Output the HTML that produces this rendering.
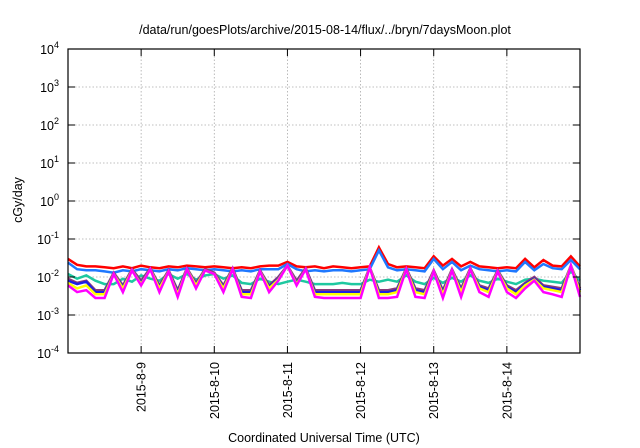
<!DOCTYPE html>
<html><head><meta charset="utf-8"><style>
body{margin:0;background:#fff}
svg{display:block;font-family:"Liberation Sans",sans-serif}
</style></head><body>
<svg id="chart" width="640" height="448" viewBox="0 0 640 448" xmlns="http://www.w3.org/2000/svg">
<text x="325" y="34" font-size="12.5" text-anchor="middle">/data/run/goesPlots/archive/2015-08-14/flux/../bryn/7daysMoon.plot</text>
<text transform="translate(22,200) rotate(-90)" font-size="12.5" text-anchor="middle">cGy/day</text>
<text x="324" y="442" font-size="12.5" text-anchor="middle">Coordinated Universal Time (UTC)</text>
<g id="grid"></g><g id="series"></g><g id="axes"></g>
</svg>
<script>
const dayLabels=["2015-8-9","2015-8-10","2015-8-11","2015-8-12","2015-8-13","2015-8-14"];
const decades=[-4,-3,-2,-1,0,1,2,3,4];
const red=[0.03,0.021,0.019,0.019,0.018,0.017,0.019,0.017,0.02,0.018,0.017,0.019,0.018,0.02,0.019,0.018,0.019,0.018,0.017,0.018,0.017,0.019,0.02,0.02,0.025,0.019,0.018,0.019,0.017,0.019,0.018,0.017,0.018,0.019,0.06,0.022,0.018,0.019,0.018,0.017,0.035,0.02,0.03,0.019,0.025,0.019,0.018,0.017,0.018,0.017,0.03,0.018,0.028,0.02,0.019,0.035,0.019];
const lightBlue=[0.024,0.016,0.015,0.015,0.014,0.013,0.015,0.014,0.016,0.015,0.014,0.016,0.015,0.017,0.016,0.015,0.016,0.015,0.014,0.015,0.014,0.016,0.016,0.016,0.022,0.016,0.014,0.015,0.014,0.015,0.015,0.014,0.015,0.016,0.05,0.018,0.015,0.016,0.015,0.014,0.03,0.016,0.025,0.015,0.02,0.016,0.015,0.014,0.015,0.014,0.025,0.015,0.022,0.017,0.016,0.028,0.016];
const teal=[0.012,0.009,0.011,0.008,0.0065,0.0065,0.009,0.0075,0.011,0.009,0.008,0.012,0.009,0.012,0.0085,0.011,0.012,0.009,0.011,0.007,0.0065,0.009,0.0075,0.0065,0.0075,0.0085,0.0075,0.0065,0.0065,0.0065,0.007,0.0065,0.0065,0.0085,0.0075,0.0085,0.0075,0.011,0.0075,0.0065,0.0095,0.007,0.0095,0.0075,0.011,0.008,0.007,0.009,0.0075,0.0065,0.0085,0.009,0.008,0.0075,0.007,0.014,0.008];
const purple=[0.009,0.007,0.008,0.0045,0.0045,0.013,0.006,0.016,0.008,0.017,0.006,0.015,0.0045,0.017,0.007,0.016,0.013,0.006,0.017,0.0045,0.0045,0.015,0.006,0.01,0.02,0.008,0.017,0.0045,0.0045,0.0045,0.0045,0.0045,0.0045,0.018,0.0045,0.0045,0.005,0.017,0.005,0.0045,0.015,0.0045,0.016,0.005,0.017,0.006,0.005,0.015,0.006,0.0045,0.007,0.01,0.006,0.0055,0.005,0.02,0.005];
const blue=[0.008,0.0065,0.0075,0.004,0.004,0.012,0.0055,0.015,0.007,0.016,0.0055,0.014,0.004,0.016,0.0065,0.015,0.012,0.0055,0.016,0.004,0.004,0.014,0.0055,0.009,0.02,0.007,0.016,0.004,0.004,0.004,0.004,0.004,0.004,0.018,0.004,0.004,0.0045,0.016,0.0045,0.004,0.014,0.004,0.015,0.0045,0.016,0.0055,0.0045,0.014,0.0055,0.004,0.0065,0.009,0.0055,0.005,0.0045,0.02,0.0045];
const yellow=[0.007,0.005,0.006,0.0035,0.0035,0.012,0.005,0.015,0.0065,0.016,0.005,0.014,0.0035,0.016,0.006,0.015,0.012,0.005,0.016,0.0035,0.0035,0.014,0.005,0.0085,0.02,0.0065,0.016,0.0035,0.0035,0.0035,0.0035,0.0035,0.0035,0.018,0.0035,0.0035,0.004,0.016,0.004,0.0035,0.014,0.0035,0.015,0.004,0.016,0.005,0.004,0.014,0.005,0.0035,0.006,0.0085,0.005,0.0045,0.004,0.02,0.004];
const magenta=[0.006,0.004,0.0045,0.0028,0.0028,0.012,0.004,0.015,0.006,0.016,0.004,0.014,0.003,0.016,0.005,0.015,0.012,0.004,0.016,0.003,0.0028,0.014,0.004,0.008,0.02,0.006,0.016,0.003,0.0028,0.0028,0.0028,0.0028,0.0028,0.018,0.0028,0.0028,0.003,0.016,0.003,0.0028,0.014,0.0028,0.015,0.003,0.016,0.004,0.003,0.014,0.004,0.0028,0.005,0.008,0.004,0.0035,0.003,0.02,0.003];
const seriesList=[[red,"#ff0000"],[lightBlue,"#1f78ff"],[teal,"#1ec8a0"],[purple,"#8a3a7a"],[blue,"#2020e0"],[yellow,"#ffff00"],[magenta,"#ff00ff"]];
const L=68,R=580,T=49,B=353,DAYS=7;
const NS="http://www.w3.org/2000/svg";
function xDay(d){return L+(R-L)*d/DAYS;}
function yVal(v){return B-(Math.log10(v)+4)*(B-T)/8;}
function mk(tag,attrs,parent){const e=document.createElementNS(NS,tag);for(const k in attrs)e.setAttribute(k,attrs[k]);parent.appendChild(e);return e;}
const grid=document.getElementById('grid'),axes=document.getElementById('axes'),ser=document.getElementById('series');
decades.forEach(p=>{const y=yVal(Math.pow(10,p));
 if(p>-4&&p<4){const g=mk('line',{x1:L,x2:R,y1:y,y2:y,stroke:'#aaa','stroke-width':0.8,'stroke-dasharray':'1.5,2'},grid);
 
 }
 const t=mk('line',{x1:L,x2:L+7,y1:y,y2:y,stroke:'#000'},axes);
 
 
 mk('line',{x1:R-7,x2:R,y1:y,y2:y,stroke:'#000'},axes);
 const tx=mk('text',{x:L-9,y:y+5,'font-size':12.5,'text-anchor':'end'},axes);
 
 
 tx.innerHTML='10<tspan dy="-6" font-size="9">'+p+'</tspan>';
});
dayLabels.forEach((lab,i)=>{const x=xDay(i+1);
 const g=mk('line',{x1:x,x2:x,y1:T,y2:B,stroke:'#aaa','stroke-width':0.8,'stroke-dasharray':'1.5,2'},grid);
 
 
 mk('line',{x1:x,x2:x,y1:B-7,y2:B,stroke:'#000'},axes);
 mk('line',{x1:x,x2:x,y1:T,y2:T+7,stroke:'#000'},axes);
 const tx=mk('text',{transform:'translate('+(x+4.5)+','+(B+9)+') rotate(-90)','font-size':12.5,'text-anchor':'end'},axes);
 
 
 tx.textContent=lab;
});
const frame=mk('rect',{x:L,y:T,width:R-L,height:B-T,fill:'none',stroke:'#000','stroke-width':1.2},axes);


seriesList.forEach(([arr,col])=>{
 const n=arr.length;const pts=arr.map((v,i)=>xDay(i*DAYS/(n-1)).toFixed(1)+','+yVal(v).toFixed(1)).join(' ');
 const p=mk('polyline',{points:pts,fill:'none',stroke:col,'stroke-width':2.5,'stroke-linejoin':'miter'},ser);
 
 
});
</script>
</body></html>
